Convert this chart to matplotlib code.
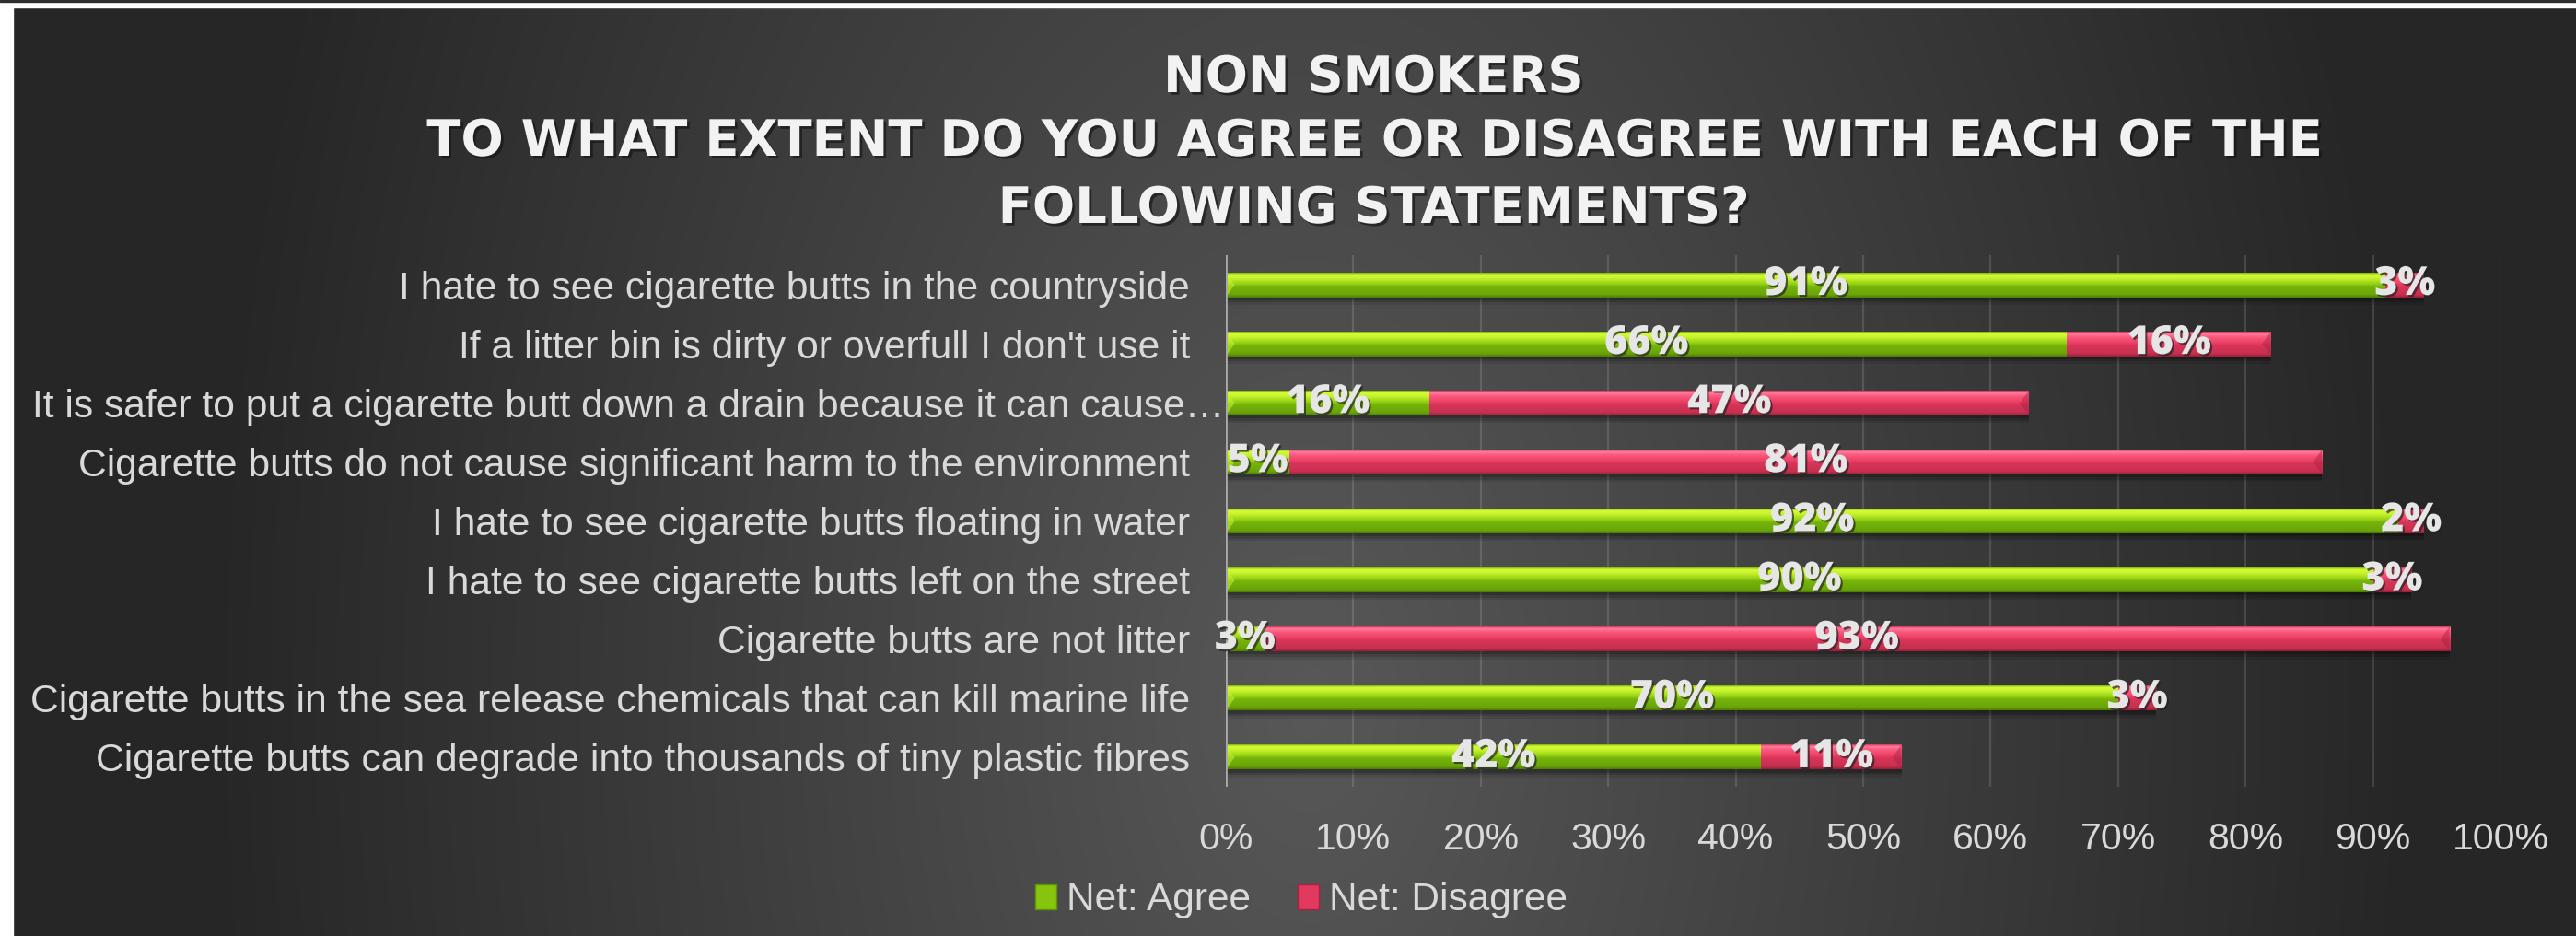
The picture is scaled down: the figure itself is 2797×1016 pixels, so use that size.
import numpy as np
import matplotlib
matplotlib.use("Agg")
import matplotlib.pyplot as plt
from matplotlib.patches import Rectangle, Polygon, Patch
import matplotlib.patheffects as pe
from matplotlib.transforms import ScaledTranslation

# ---------------- data ----------------
categories = [
    "I hate to see cigarette butts in the countryside",
    "If a litter bin is dirty or overfull I don't use it",
    "It is safer to put a cigarette butt down a drain because it can cause\u2026",
    "Cigarette butts do not cause significant harm to the environment",
    "I hate to see cigarette butts floating in water",
    "I hate to see cigarette butts left on the street",
    "Cigarette butts are not litter",
    "Cigarette butts in the sea release chemicals that can kill marine life",
    "Cigarette butts can degrade into thousands of tiny plastic fibres",
]
agree = [91, 66, 16, 5, 92, 90, 3, 70, 42]
disagree = [3, 16, 47, 81, 2, 3, 93, 3, 11]
series_names = ["Net: Agree", "Net: Disagree"]
xticks = [0, 10, 20, 30, 40, 50, 60, 70, 80, 90, 100]
title_lines = [
    "NON SMOKERS",
    "TO WHAT EXTENT DO YOU AGREE OR DISAGREE WITH EACH OF THE",
    "FOLLOWING STATEMENTS?",
]

# ---------------- styling ----------------
W, H = 2797, 1016
DPI = 100
TXT = "#d9d9d9"
BAR_H = 0.42
LABEL_FONT = ["Liberation Sans", "DejaVu Sans"]
DISPLAY_FONT = ["Open Sans", "DejaVu Sans"]
TITLE_FONT = ["DejaVu Sans"]

green_stops = [(0.0, "#7fb80c"), (0.08, "#d6fc38"), (0.22, "#c6f22c"),
               (0.45, "#92d112"), (0.55, "#76b40b"), (0.88, "#6aa508"),
               (1.0, "#4d7d06")]
red_stops = [(0.0, "#d8365a"), (0.08, "#ff7d9c"), (0.22, "#f9587c"),
             (0.45, "#ee3e64"), (0.55, "#d7355a"), (0.88, "#c8304f"),
             (1.0, "#962038")]
green_solid = "#86c40e"
red_solid = "#e23a5f"


def make_gradient(stops, n=64):
    from matplotlib.colors import to_rgb
    pos = np.array([s[0] for s in stops])
    cols = np.array([to_rgb(s[1]) for s in stops])
    t = np.linspace(0, 1, n)
    arr = np.stack([np.interp(t, pos, cols[:, k]) for k in range(3)], axis=-1)
    return arr[:, None, :]


fig = plt.figure(figsize=(W / DPI, H / DPI), dpi=DPI)

# ---- background radial gradient ----
bg = fig.add_axes([0, 0, 1, 1], zorder=-10)
ny, nx = 254, 700
yy, xx = np.mgrid[0:ny, 0:nx]
px = xx * (W / nx)
py = yy * (H / ny)
cx, cy = 1420, 760
d = np.sqrt((px - cx) ** 2 + ((py - cy) * 0.6) ** 2)
t = np.clip(d / 1200.0, 0, 1)
c_in, c_out = 0x58 / 255, 0x26 / 255
val = c_in + (c_out - c_in) * t
img = np.stack([val, val, val], axis=-1)
bg.imshow(img, extent=(0, W, H, 0), aspect="auto", interpolation="bilinear")
bg.set_xlim(0, W)
bg.set_ylim(H, 0)
bg.axis("off")
# frame strips (white border on top/left, dark sliver at very top)
bg.add_patch(Rectangle((0, 0), 14, H, color="white", zorder=5))
bg.add_patch(Rectangle((0, 2), W, 6, color="white", zorder=5))
bg.add_patch(Rectangle((0, 0), W, 2, color="#2e2e2e", zorder=6))

# ---- main axes ----
ax = fig.add_axes([1331 / W, 1 - 854 / H, (2715 - 1331) / W, (854 - 277) / H])
ax.set_facecolor("none")
for s in ax.spines.values():
    s.set_visible(False)

g_grad = make_gradient(green_stops)
r_grad = make_gradient(red_stops)

y = np.arange(len(categories))
for i, (a, dval) in enumerate(zip(agree, disagree)):
    total = a + dval
    # shadow
    for k, al in [(0.05, 0.18), (0.09, 0.14), (0.13, 0.09)]:
        ax.barh(i + k, total, left=0, height=BAR_H, color="black", alpha=al,
                linewidth=0, zorder=2)
    for left, w, grad, solid, side in [(0, a, g_grad, green_solid, "left"),
                                       (a, dval, r_grad, red_solid, "right")]:
        rect = ax.barh(i, w, left=left, height=BAR_H, color=solid,
                       linewidth=0, zorder=3)[0]
        im = ax.imshow(grad, extent=(left, left + w, i + BAR_H / 2, i - BAR_H / 2),
                       aspect="auto", interpolation="bilinear", zorder=4)
        im.set_clip_path(rect)
        dx = min(0.7, w / 2)
        if side == "left":
            tri = Polygon([(left, i - BAR_H / 2), (left + dx, i), (left, i + BAR_H / 2)],
                          closed=True, color="#c9f52c", alpha=0.55, linewidth=0, zorder=5)
        else:
            tri = Polygon([(left + w, i - BAR_H / 2), (left + w - dx, i), (left + w, i + BAR_H / 2)],
                          closed=True, color="#a8223f", alpha=0.45, linewidth=0, zorder=5)
        ax.add_patch(tri)

# data labels
lab_fx = [pe.withSimplePatchShadow(offset=(1.5, -1.5), shadow_rgbFace="#222222", alpha=0.7)]
for i, (a, dval) in enumerate(zip(agree, disagree)):
    for left, w in [(0, a), (a, dval)]:
        ax.text(left + w / 2, i, f"{w}%", ha="center", va="center",
                fontsize=31, family=DISPLAY_FONT, weight="heavy", color="#e6e6e6",
                zorder=10, path_effects=lab_fx)

ax.set_xlim(0, 100)
ax.set_ylim(len(categories) - 0.5, -0.5)
ax.set_xticks(xticks)
ax.set_xticklabels([f"{v}%" for v in xticks], color=TXT, fontsize=29.5, family=LABEL_FONT)
ax.set_yticks(y)
ax.set_yticklabels(categories, color=TXT, fontsize=30.7, family=LABEL_FONT)
ax.tick_params(axis="x", length=0, pad=27)
ax.tick_params(axis="y", length=0, pad=28)
ax.grid(axis="x", color="white", alpha=0.13, linewidth=1.6, zorder=0)
ax.grid(axis="y", visible=False)
ax.set_axisbelow(True)
ax.axvline(0, color="#a9a9a9", linewidth=2, zorder=6)

# the truncated (overlong) category label sits right against the axis
long_lbl = ax.get_yticklabels()[2]
long_lbl.set_transform(long_lbl.get_transform() + ScaledTranslation(0.37, 0, fig.dpi_scale_trans))

# legend
handles = [Patch(facecolor=green_solid, edgecolor="#5f9406", linewidth=1),
           Patch(facecolor=red_solid, edgecolor="#a8223f", linewidth=1)]
leg = fig.legend(handles, series_names, loc="center", bbox_to_anchor=(1413 / W, 1 - 977 / H),
                 ncol=2, frameon=False, handlelength=0.55, handleheight=0.6,
                 handletextpad=0.25, columnspacing=1.2,
                 prop={"family": LABEL_FONT, "size": 30.5})
for txt in leg.get_texts():
    txt.set_color(TXT)

# title
title_fx = [pe.withSimplePatchShadow(offset=(2, -2), shadow_rgbFace="#111111", alpha=0.6)]
for line, yc in zip(title_lines, [85, 154, 227]):
    fig.text(1491 / W, 1 - yc / H, line, ha="center", va="center", fontsize=39.2,
             family=TITLE_FONT, weight="bold", color="#f2f2f2", path_effects=title_fx)

fig.savefig("out.png", dpi=DPI)
